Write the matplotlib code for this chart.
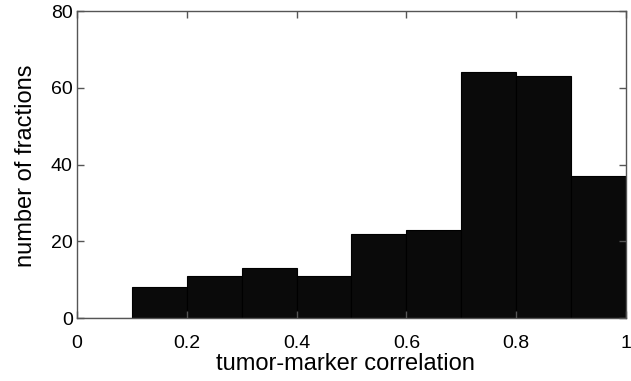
import matplotlib.pyplot as plt
import numpy as np

# histogram of tumor-marker correlation
bin_edges = [0.0, 0.1, 0.2, 0.3, 0.4, 0.5, 0.6, 0.7, 0.8, 0.9, 1.0]
counts = [0, 8, 11, 13, 11, 22, 23, 64, 63, 37]
xticks = [0, 0.2, 0.4, 0.6, 0.8, 1]
yticks = [0, 20, 40, 60, 80]

plt.rcParams['font.family'] = ['Liberation Sans', 'DejaVu Sans']
TICK_FS = 14
LABEL_FS = 17

fig = plt.figure(figsize=(6.31, 3.81), dpi=100)
ax = fig.add_axes([0.122, 0.165, 0.870, 0.806])

lefts = np.array(bin_edges[:-1])
widths = np.diff(bin_edges)
ax.bar(lefts, counts, width=widths, align='edge', color='#0a0a0a',
       edgecolor='#000000', linewidth=0.8)

ax.set_xlim(0, 1)
ax.set_ylim(0, 80)
ax.set_xticks(xticks)
ax.set_xticklabels(['0', '0.2', '0.4', '0.6', '0.8', '1'])
ax.set_yticks(yticks)
ax.tick_params(direction='in', top=True, right=True, length=5, width=1,
               color='#555555', labelsize=TICK_FS)
ax.tick_params(axis='x', pad=12)
ax.tick_params(axis='y', pad=3)
for s in ax.spines.values():
    s.set_color('#555555')
    s.set_linewidth(1)

ax.set_xlabel('tumor-marker correlation', fontsize=LABEL_FS)
ax.set_ylabel('number of fractions', fontsize=LABEL_FS)
# matlab puts the xlabel a bit left of centre
ax.xaxis.set_label_coords(0.489, -0.113)
ax.yaxis.set_label_coords(-0.073, 0.497)

fig.savefig('out.png', dpi=100)
